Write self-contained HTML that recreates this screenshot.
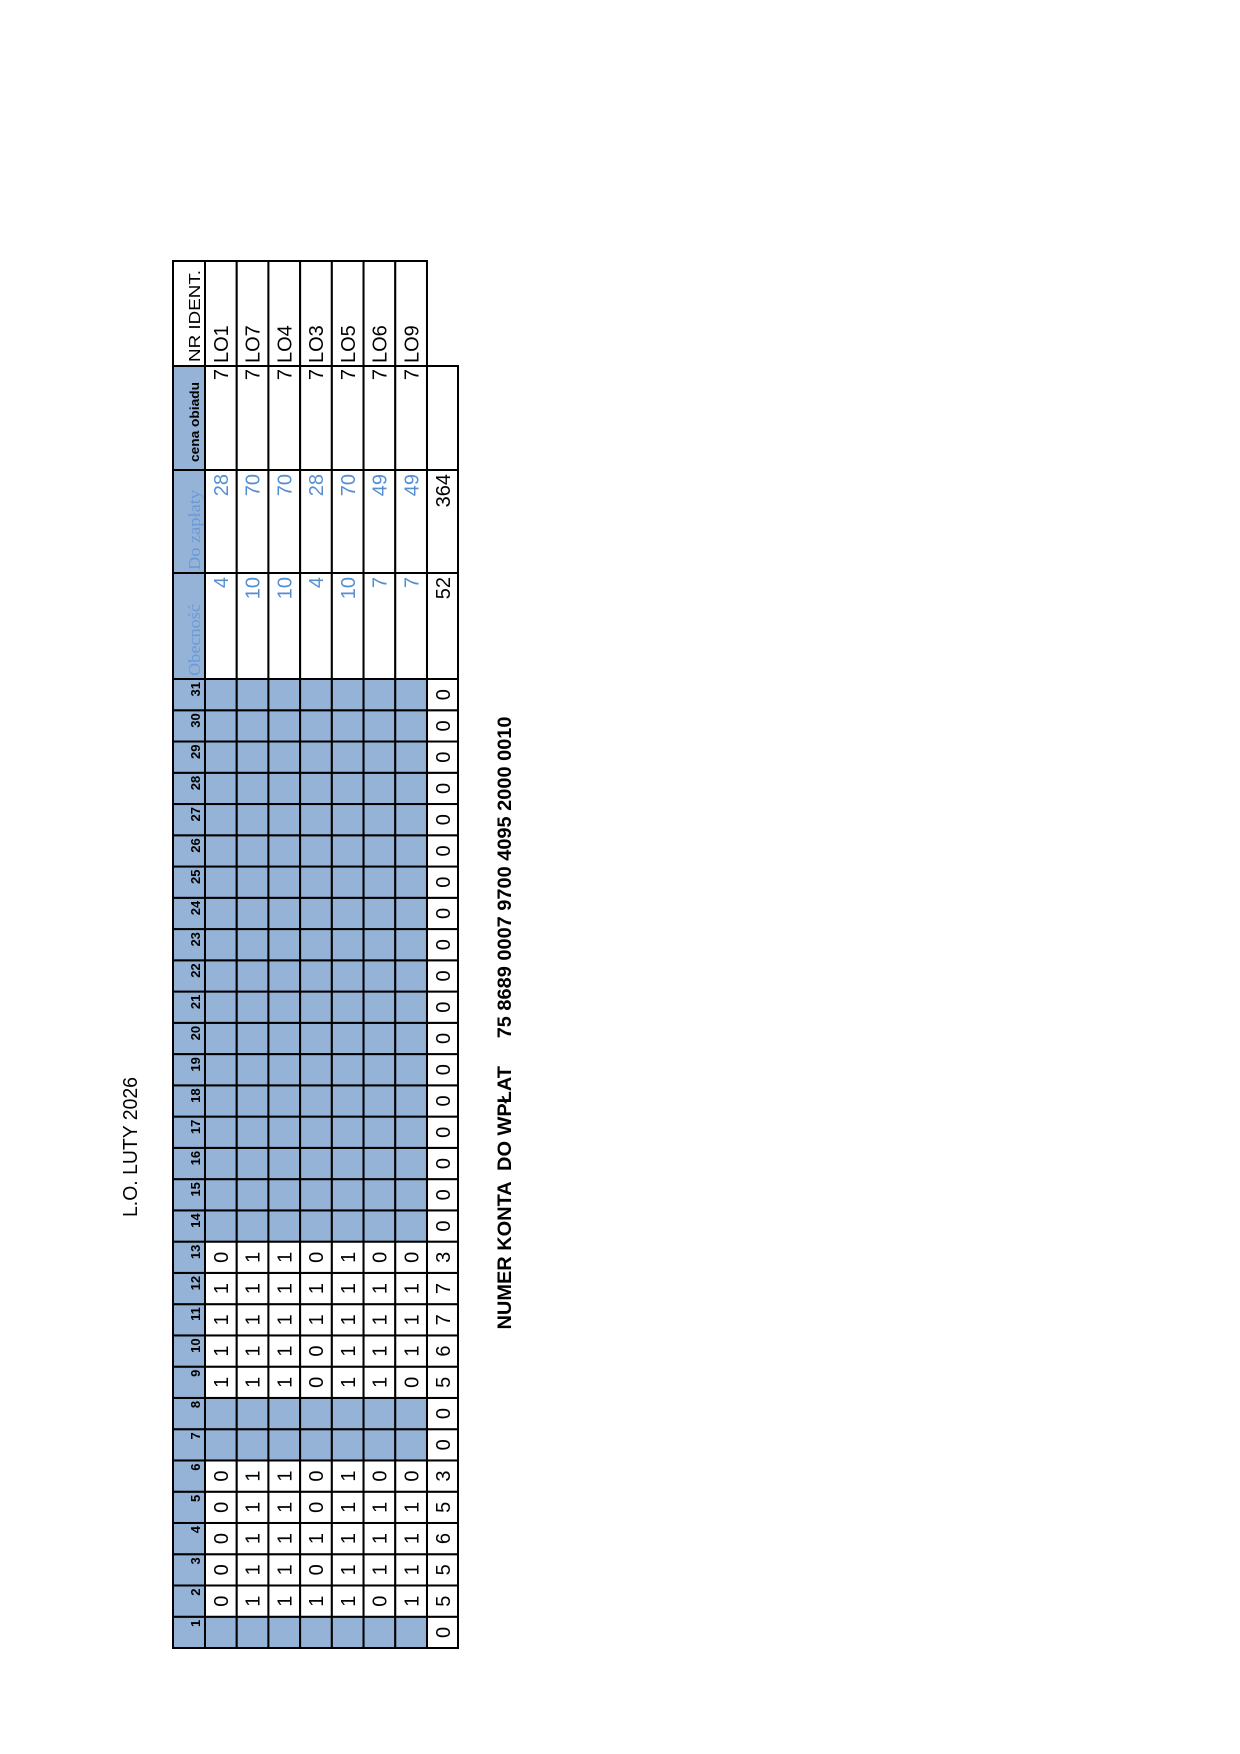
<!DOCTYPE html>
<html><head><meta charset="utf-8"><style>html,body{margin:0;padding:0;background:#fff}svg{display:block}</style></head>
<body>
<svg width="1240" height="1754" xmlns="http://www.w3.org/2000/svg" font-family="'Liberation Sans', sans-serif">
<text transform="translate(137,1147) rotate(-90)" x="0" y="0" text-anchor="middle" font-size="20" textLength="140" lengthAdjust="spacingAndGlyphs">L.O. LUTY 2026</text>
<text transform="translate(511,1023) rotate(-90)" x="0" y="0" text-anchor="middle" font-size="19" font-weight="bold" textLength="613" lengthAdjust="spacingAndGlyphs" style="white-space:pre">NUMER KONTA  DO WPŁAT     75 8689 0007 9700 4095 2000 0010</text>
<g id="t" transform="translate(173,1648) rotate(-90)"></g>
</svg>
<script>
(function(){
var g=document.getElementById('t'),NS='http://www.w3.org/2000/svg';
function el(n,a,txt){var e=document.createElementNS(NS,n);for(var k in a)e.setAttribute(k,a[k]);if(txt!=null)e.textContent=txt;g.appendChild(e);return e;}
var dw=969/31;
var cols=[];for(var i=0;i<31;i++)cols.push([i*dw,(i+1)*dw]);
cols.push([969,1075]);cols.push([1075,1178]);cols.push([1178,1282]);cols.push([1282,1387]);
var rows=[[0,32]];for(var r=0;r<7;r++)rows.push([32+r*31.71,32+(r+1)*31.71]);rows.push([254,285]);
var BL='#95b3d7',TX='#558ed5';
var D={2:[0,1,1,1,1,0,1],3:[0,1,1,0,1,1,1],4:[0,1,1,1,1,1,1],5:[0,1,1,0,1,1,1],6:[0,1,1,0,1,0,0],9:[1,1,1,0,1,1,0],10:[1,1,1,0,1,1,1],11:[1,1,1,1,1,1,1],12:[1,1,1,1,1,1,1],13:[0,1,1,0,1,0,0]};
var sums=[0,5,5,6,5,3,0,0,5,6,7,7,3];
var ob=[4,10,10,4,10,7,7],dz=[28,70,70,28,70,49,49],nr=['LO1','LO7','LO4','LO3','LO5','LO6','LO9'];
for(var c=0;c<35;c++){for(var r=0;r<9;r++){
 if(r==8&&c==34)continue;
 var x0=cols[c][0],x1=cols[c][1],y0=rows[r][0],y1=rows[r][1];
 var fill='#fff';
 if(r==0&&c<34)fill=BL;
 if(r>=1&&r<=7&&c<31){var d=c+1;if(!D[d])fill=BL;}
 el('rect',{x:x0,y:y0,width:x1-x0,height:y1-y0,fill:fill,stroke:'#000','stroke-width':2});
}}
function t(x,y,s,o){var a={x:x,y:y,'font-size':o.fs||20,fill:o.fill||'#000'};if(o.anchor)a['text-anchor']=o.anchor;if(o.fw)a['font-weight']=o.fw;if(o.ff)a['font-family']=o.ff;if(o.tl){a.textLength=o.tl;a.lengthAdjust='spacingAndGlyphs';}return el('text',a,s);}
for(var c=0;c<31;c++){
 t(cols[c][1]-3,27,String(c+1),{fs:13,fw:'bold',anchor:'end'});
 var d=c+1;
 if(D[d])for(var r=0;r<7;r++)t((cols[c][0]+cols[c][1])/2,rows[r+1][0]+23,String(D[d][r]),{anchor:'middle'});
 t((cols[c][0]+cols[c][1])/2,277,String(c<13?sums[c]:0),{anchor:'middle'});
}
t(972,27,'Obecność',{fs:17,fill:'#6a9ad8',ff:"'Liberation Serif', serif",tl:72});
t(1078,27,'Do zapłaty',{fs:17,fill:'#6a9ad8',ff:"'Liberation Serif', serif",tl:80});
t(1186,26,'cena obiadu',{fs:13,fw:'bold',tl:80});
t(1286,27,'NR IDENT.',{fs:16,tl:92});
for(var r=0;r<7;r++){
 var y=rows[r+1][0]+23;
 t(1071,y,String(ob[r]),{fill:TX,anchor:'end'});
 t(1174,y,String(dz[r]),{fill:TX,anchor:'end'});
 t(1279,y,'7',{anchor:'end'});
 t(1285,y,nr[r],{});
}
t(1071,277,'52',{anchor:'end'});
t(1174,277,'364',{anchor:'end'});
})();
</script>
</body></html>
